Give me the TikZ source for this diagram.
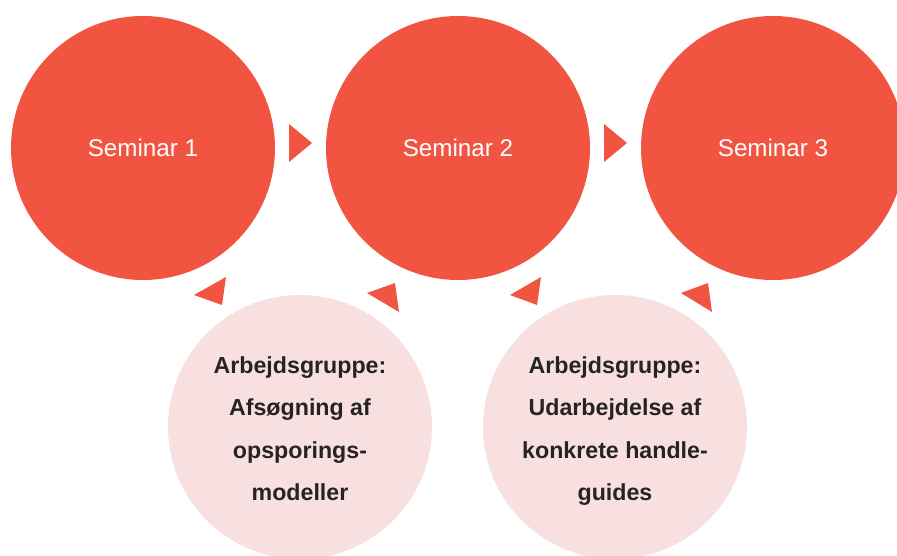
\documentclass[tikz,border=0pt]{standalone}
\usepackage{fontspec}
\setmainfont{Liberation Sans}
\definecolor{semred}{HTML}{F15541}
\definecolor{grppink}{HTML}{F8E0E1}
\definecolor{txtdark}{HTML}{262324}
\begin{document}
\begin{tikzpicture}[x=1pt,y=-1pt,
  seminar/.style={circle,fill=semred,minimum size=264pt,inner sep=0pt,
    text=white,font=\fontsize{24.2}{28}\selectfont},
  group/.style={circle,fill=grppink,minimum size=264pt,inner sep=0pt},
  grouptext/.style={inner sep=0pt,text=txtdark,align=center,
    font=\bfseries\fontsize{23.2}{42.5}\selectfont},
  tri/.style={fill=semred}]
\useasboundingbox (0,0) rectangle (897,556);
\clip (0,0) rectangle (897,556);
\node[seminar] (s1) at (143,148) {Seminar 1};
\node[seminar] (s2) at (458,148) {Seminar 2};
\node[seminar] (s3) at (773,148) {Seminar 3};
\node[group] (g1) at (300,427) {};
\node[group] (g2) at (615,427) {};
\node[grouptext] (t1) at ([yshift=-8pt]g1.center) {Arbejdsgruppe:\\Afsøgning af\\opsporings-\\modeller\strut};
\node[grouptext] (t2) at ([yshift=-8pt]g2.center) {Arbejdsgruppe:\\Udarbejdelse af\\konkrete handle-\\guides\strut};
% arrows between seminars
\fill[tri] (289,124) -- (312,143) -- (289,162) -- cycle;
\fill[tri] (604,124) -- (627,143) -- (604,162) -- cycle;
% arrows by working groups
\fill[tri] (194,295) -- (226,277) -- (222,305) -- cycle;
\fill[tri] (367,293) -- (395,283) -- (399,312) -- cycle;
\fill[tri] (510,295) -- (541,277) -- (537,305) -- cycle;
\fill[tri] (681,293) -- (708,283) -- (712,312) -- cycle;
\end{tikzpicture}
\end{document}
